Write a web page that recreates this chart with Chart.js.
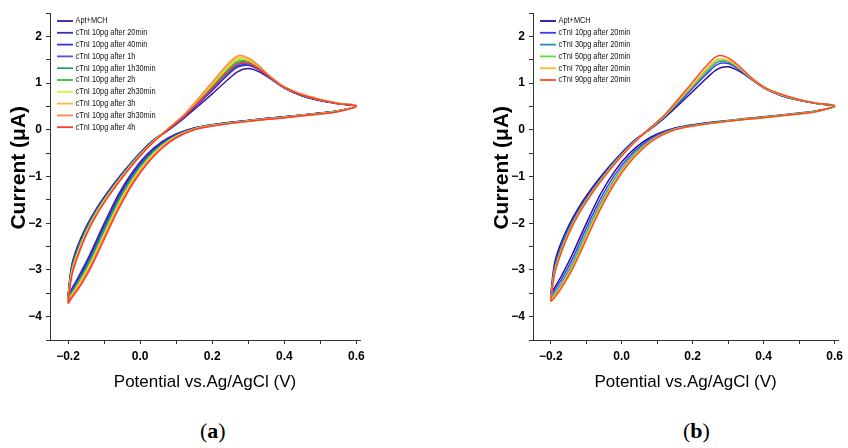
<!DOCTYPE html>
<html>
<head>
<meta charset="utf-8">
<script src="https://cdn.jsdelivr.net/npm/chart.js@4.4.1/dist/chart.umd.min.js"></script>
<style>
  body { margin: 0; background: #fff; }
  #wrap { position: relative; width: 848px; height: 448px; overflow: hidden; }
  canvas { position: absolute; top: 0; }
  #cvA { left: 0; }
  #cvB { left: 483px; }
  .tag { position: absolute; top: 418px; font: 22px 'Liberation Serif', 'DejaVu Serif', serif; color: #000; }
  .tag b { font-weight: bold; }
</style>
</head>
<body>
<div id="wrap">
  <canvas id="cvA" width="424" height="400"></canvas>
  <canvas id="cvB" width="365" height="400"></canvas>
  <div class="tag" style="left:200px">(<b>a</b>)</div>
  <div class="tag" style="left:683px">(<b>b</b>)</div>
</div>
<script>
'use strict';

// potential sweep: -0.2 -> 0.6 (forward) then back to -0.2
const potential = [-0.2, -0.19, -0.175, -0.15, -0.12, -0.08, -0.04, 0, 0.04,
    0.08, 0.12, 0.16, 0.2, 0.24, 0.27, 0.3, 0.33, 0.36, 0.4, 0.45, 0.5, 0.55, 0.6,
    0.55, 0.5, 0.4, 0.3, 0.2, 0.15, 0.1, 0.06, 0.02, -0.02, -0.06, -0.1, -0.14, -0.17, -0.19, -0.2];

const xTicks = [-0.2, 0.0, 0.2, 0.4, 0.6];
const yTicks = [-4, -3, -2, -1, 0, 1, 2];

// panel (a)
const labelsA = ['Apt+MCH', 'cTnI 10pg after 20min', 'cTnI 10pg after 40min', 'cTnI 10pg after 1h',
    'cTnI 10pg after 1h30min', 'cTnI 10pg after 2h', 'cTnI 10pg after 2h30min', 'cTnI 10pg after 3h',
    'cTnI 10pg after 3h30min', 'cTnI 10pg after 4h'];
const colorsA = ['#45189a', '#2e3aa0', '#3030e6', '#4a55e8', '#1f9e6e', '#2ec82e',
    '#d4f02a', '#ffb830', '#ff8c4a', '#ff3b30'];

const aptA = [-3.55, -2.91, -2.52, -2.08, -1.67, -1.23, -0.84, -0.49, -0.20,
    0.00, 0.24, 0.50, 0.77, 1.05, 1.24, 1.31, 1.24, 1.10, 0.89, 0.72, 0.62, 0.555, 0.50,
    0.41, 0.36, 0.28, 0.20, 0.11, 0.04, -0.09, -0.26, -0.52, -0.89, -1.38, -2.01, -2.68, -3.13, -3.41, -3.55];
const min20A = [-3.57, -2.94, -2.55, -2.10, -1.69, -1.24, -0.85, -0.50, -0.20,
    0.01, 0.26, 0.55, 0.84, 1.15, 1.34, 1.38, 1.28, 1.11, 0.90, 0.73, 0.63, 0.56, 0.51,
    0.41, 0.36, 0.28, 0.20, 0.11, 0.04, -0.10, -0.28, -0.54, -0.92, -1.42, -2.05, -2.72, -3.16, -3.43, -3.57];
const min40A = [-3.59, -2.96, -2.57, -2.12, -1.70, -1.25, -0.86, -0.51, -0.21,
    0.01, 0.27, 0.56, 0.86, 1.17, 1.36, 1.39, 1.29, 1.12, 0.90, 0.73, 0.63, 0.56, 0.51,
    0.41, 0.36, 0.28, 0.20, 0.10, 0.03, -0.11, -0.29, -0.56, -0.95, -1.45, -2.09, -2.75, -3.19, -3.45, -3.59];
const h1A = [-3.61, -2.99, -2.60, -2.14, -1.72, -1.27, -0.87, -0.51, -0.21,
    0.02, 0.27, 0.57, 0.88, 1.19, 1.39, 1.41, 1.30, 1.12, 0.90, 0.74, 0.63, 0.56, 0.51,
    0.40, 0.35, 0.27, 0.19, 0.10, 0.03, -0.12, -0.31, -0.59, -0.98, -1.49, -2.12, -2.79, -3.22, -3.47, -3.61];
const h1m30A = [-3.63, -3.01, -2.62, -2.16, -1.73, -1.28, -0.88, -0.52, -0.22,
    0.02, 0.28, 0.59, 0.91, 1.24, 1.43, 1.44, 1.31, 1.13, 0.91, 0.74, 0.64, 0.56, 0.51,
    0.40, 0.35, 0.27, 0.19, 0.10, 0.02, -0.13, -0.32, -0.61, -1.01, -1.52, -2.16, -2.82, -3.25, -3.49, -3.63];
const h2A = [-3.64, -3.04, -2.65, -2.18, -1.75, -1.29, -0.89, -0.53, -0.22,
    0.03, 0.29, 0.61, 0.94, 1.27, 1.47, 1.47, 1.33, 1.13, 0.91, 0.75, 0.64, 0.57, 0.51,
    0.40, 0.35, 0.27, 0.19, 0.09, 0.02, -0.13, -0.34, -0.63, -1.03, -1.56, -2.20, -2.86, -3.27, -3.52, -3.64];
const h2m30A = [-3.66, -3.06, -2.67, -2.20, -1.76, -1.30, -0.90, -0.54, -0.23,
    0.03, 0.30, 0.63, 0.97, 1.31, 1.51, 1.49, 1.34, 1.14, 0.91, 0.75, 0.64, 0.57, 0.52,
    0.40, 0.35, 0.27, 0.19, 0.09, 0.01, -0.14, -0.35, -0.65, -1.06, -1.59, -2.24, -2.89, -3.30, -3.54, -3.66];
const h3A = [-3.68, -3.09, -2.70, -2.22, -1.78, -1.32, -0.91, -0.54, -0.23,
    0.04, 0.30, 0.64, 0.99, 1.34, 1.54, 1.51, 1.36, 1.14, 0.92, 0.76, 0.65, 0.57, 0.52,
    0.39, 0.34, 0.26, 0.18, 0.09, 0.01, -0.15, -0.37, -0.68, -1.09, -1.63, -2.27, -2.93, -3.33, -3.56, -3.68];
const h3m30A = [-3.70, -3.11, -2.72, -2.24, -1.79, -1.33, -0.92, -0.55, -0.24,
    0.04, 0.31, 0.66, 1.02, 1.38, 1.58, 1.54, 1.37, 1.15, 0.92, 0.76, 0.65, 0.57, 0.52,
    0.39, 0.34, 0.26, 0.18, 0.08, 0.00, -0.16, -0.38, -0.70, -1.12, -1.66, -2.31, -2.96, -3.36, -3.58, -3.70];
const h4A = [-3.72, -3.14, -2.75, -2.26, -1.81, -1.34, -0.93, -0.56, -0.24,
    0.02, 0.28, 0.58, 0.90, 1.22, 1.41, 1.43, 1.31, 1.13, 0.91, 0.74, 0.64, 0.56, 0.51,
    0.39, 0.34, 0.26, 0.18, 0.08, 0.00, -0.17, -0.40, -0.72, -1.15, -1.70, -2.35, -3.00, -3.39, -3.60, -3.72];

// panel (b)
const labelsB = ['Apt+MCH', 'cTnI 10pg after 20min', 'cTnI 30pg after 20min', 'cTnI 50pg after 20min',
    'cTnI 70pg after 20min', 'cTnI 90pg after 20min'];
const colorsB = ['#2a0a9e', '#3d3df0', '#2b8cb0', '#5ee03a', '#ffb732', '#ff4a1f'];

const aptB = [-3.52, -2.89, -2.50, -2.06, -1.65, -1.21, -0.83, -0.49, -0.20,
    0.01, 0.25, 0.53, 0.82, 1.11, 1.30, 1.35, 1.26, 1.11, 0.90, 0.73, 0.63, 0.56, 0.50,
    0.41, 0.36, 0.28, 0.20, 0.11, 0.04, -0.09, -0.26, -0.52, -0.89, -1.38, -2.01, -2.68, -3.13, -3.39, -3.52];
const pg10B = [-3.58, -2.97, -2.58, -2.12, -1.70, -1.25, -0.86, -0.51, -0.21,
    0.02, 0.27, 0.57, 0.89, 1.20, 1.40, 1.42, 1.30, 1.12, 0.90, 0.74, 0.63, 0.56, 0.51,
    0.40, 0.35, 0.27, 0.19, 0.10, 0.03, -0.11, -0.30, -0.58, -0.97, -1.48, -2.11, -2.78, -3.21, -3.45, -3.58];
const pg30B = [-3.61, -3.02, -2.63, -2.16, -1.73, -1.27, -0.88, -0.53, -0.22,
    0.02, 0.28, 0.60, 0.92, 1.25, 1.45, 1.45, 1.32, 1.13, 0.91, 0.74, 0.64, 0.56, 0.51,
    0.40, 0.35, 0.27, 0.19, 0.09, 0.02, -0.14, -0.34, -0.64, -1.05, -1.57, -2.21, -2.87, -3.29, -3.52, -3.61];
const pg50B = [-3.63, -3.05, -2.66, -2.19, -1.75, -1.29, -0.89, -0.54, -0.23,
    0.03, 0.29, 0.61, 0.94, 1.27, 1.47, 1.47, 1.33, 1.13, 0.91, 0.75, 0.64, 0.57, 0.51,
    0.40, 0.35, 0.27, 0.19, 0.09, 0.01, -0.15, -0.36, -0.66, -1.08, -1.61, -2.25, -2.91, -3.32, -3.54, -3.63];
const pg70B = [-3.66, -3.09, -2.70, -2.22, -1.77, -1.31, -0.91, -0.55, -0.23,
    0.03, 0.30, 0.63, 0.97, 1.31, 1.51, 1.49, 1.34, 1.14, 0.91, 0.75, 0.64, 0.57, 0.52,
    0.39, 0.34, 0.26, 0.18, 0.08, 0.01, -0.16, -0.38, -0.69, -1.11, -1.66, -2.30, -2.96, -3.35, -3.57, -3.66];
const pg90B = [-3.68, -3.12, -2.73, -2.24, -1.79, -1.32, -0.92, -0.56, -0.24,
    0.04, 0.31, 0.66, 1.02, 1.38, 1.58, 1.54, 1.37, 1.15, 0.92, 0.76, 0.65, 0.57, 0.52,
    0.39, 0.34, 0.26, 0.18, 0.08, 0.00, -0.17, -0.40, -0.72, -1.15, -1.70, -2.35, -3.00, -3.39, -3.60, -3.68];

const seriesA = [aptA, min20A, min40A, h1A, h1m30A, h2A, h2m30A, h3A, h3m30A, h4A];
const seriesB = [aptB, pg10B, pg30B, pg50B, pg70B, pg90B];

Chart.defaults.font.family = "'Liberation Sans', Arial, sans-serif";
Chart.defaults.color = '#000';

const minus = (s) => s.replace('-', '\u2212');

// legend drawn inside the plot, top left (text squeezed like a narrow face)
const insideLegend = {
    id: 'insideLegend',
    afterDatasetsDraw(chart) {
        const { ctx, chartArea } = chart;
        ctx.save();
        ctx.font = "9px 'Liberation Sans', Arial, sans-serif";
        ctx.textBaseline = 'middle';
        chart.data.datasets.forEach((ds, i) => {
            const y = chartArea.top + 8 + i * 11.8;
            ctx.strokeStyle = ds.borderColor;
            ctx.lineWidth = 1.8;
            ctx.beginPath();
            ctx.moveTo(chartArea.left + 7, y);
            ctx.lineTo(chartArea.left + 23, y);
            ctx.stroke();
            ctx.save();
            ctx.translate(chartArea.left + 25.5, y);
            ctx.scale(0.82, 1);
            ctx.fillStyle = '#111';
            ctx.fillText(ds.label, 0, 0);
            ctx.restore();
        });
        ctx.restore();
    },
};

function makeChart(id, labels, colors, series, padRight) {
    const n = series.length;
    const datasets = series.map((cur, i) => ({
        label: labels[i],
        data: potential.map((p, k) => ({ x: p, y: cur[k] })),
        borderColor: colors[i],
        backgroundColor: colors[i],
        borderWidth: 1.5,
        pointRadius: 0,
        showLine: true,
        tension: 0.3,
        order: n - 1 - i,
    }));

    return new Chart(document.getElementById(id), {
        type: 'scatter',
        data: { datasets: datasets },
        options: {
            responsive: false,
            animation: false,
            events: [],
            layout: { padding: { top: 13, right: padRight, left: 0, bottom: 0 } },
            plugins: {
                legend: { display: false },
                tooltip: { enabled: false },
            },
            scales: {
                x: {
                    type: 'linear',
                    min: -0.25,
                    max: 0.61,
                    afterFit: (scale) => { scale.height = 60; },
                    border: { display: true, color: '#333', width: 1 },
                    grid: { drawOnChartArea: false, drawTicks: true, tickLength: 4, color: '#333' },
                    ticks: {
                        stepSize: 0.1,
                        includeBounds: false,
                        padding: 5,
                        font: { size: 12, weight: 'bold' },
                        callback: (v) => {
                            const k = Math.round(v * 10);
                            if (k % 2 !== 0) return '';
                            const label = xTicks.find((t) => Math.abs(t * 10 - k) < 0.01);
                            return label === undefined ? '' : minus((k / 10).toFixed(1));
                        },
                    },
                    title: {
                        display: true,
                        text: 'Potential vs.Ag/AgCl (V)',
                        font: { size: 17 },
                        padding: { top: 0, bottom: 7 },
                    },
                },
                y: {
                    min: -4.5,
                    max: 2.5,
                    afterFit: (scale) => { scale.width = 50; },
                    border: { display: true, color: '#333', width: 1 },
                    grid: { drawOnChartArea: false, drawTicks: true, tickLength: 4, color: '#333' },
                    ticks: {
                        stepSize: 0.5,
                        padding: 4,
                        font: { size: 12, weight: 'bold' },
                        callback: (v) => {
                            const k = Math.round(v * 2);
                            if (k % 2 !== 0) return '';
                            return yTicks.includes(k / 2) ? minus(String(k / 2)) : '';
                        },
                    },
                    title: {
                        display: true,
                        // leading spaces nudge the centred title up a little
                        text: '   Current (\u03bcA)',
                        font: { size: 21, weight: 'bold' },
                        padding: { top: 7, bottom: 0 },
                    },
                },
            },
        },
        plugins: [insideLegend],
    });
}

const chartA = makeChart('cvA', labelsA, colorsA, seriesA, 64);
const chartB = makeChart('cvB', labelsB, colorsB, seriesB, 6);
</script>
</body>
</html>
